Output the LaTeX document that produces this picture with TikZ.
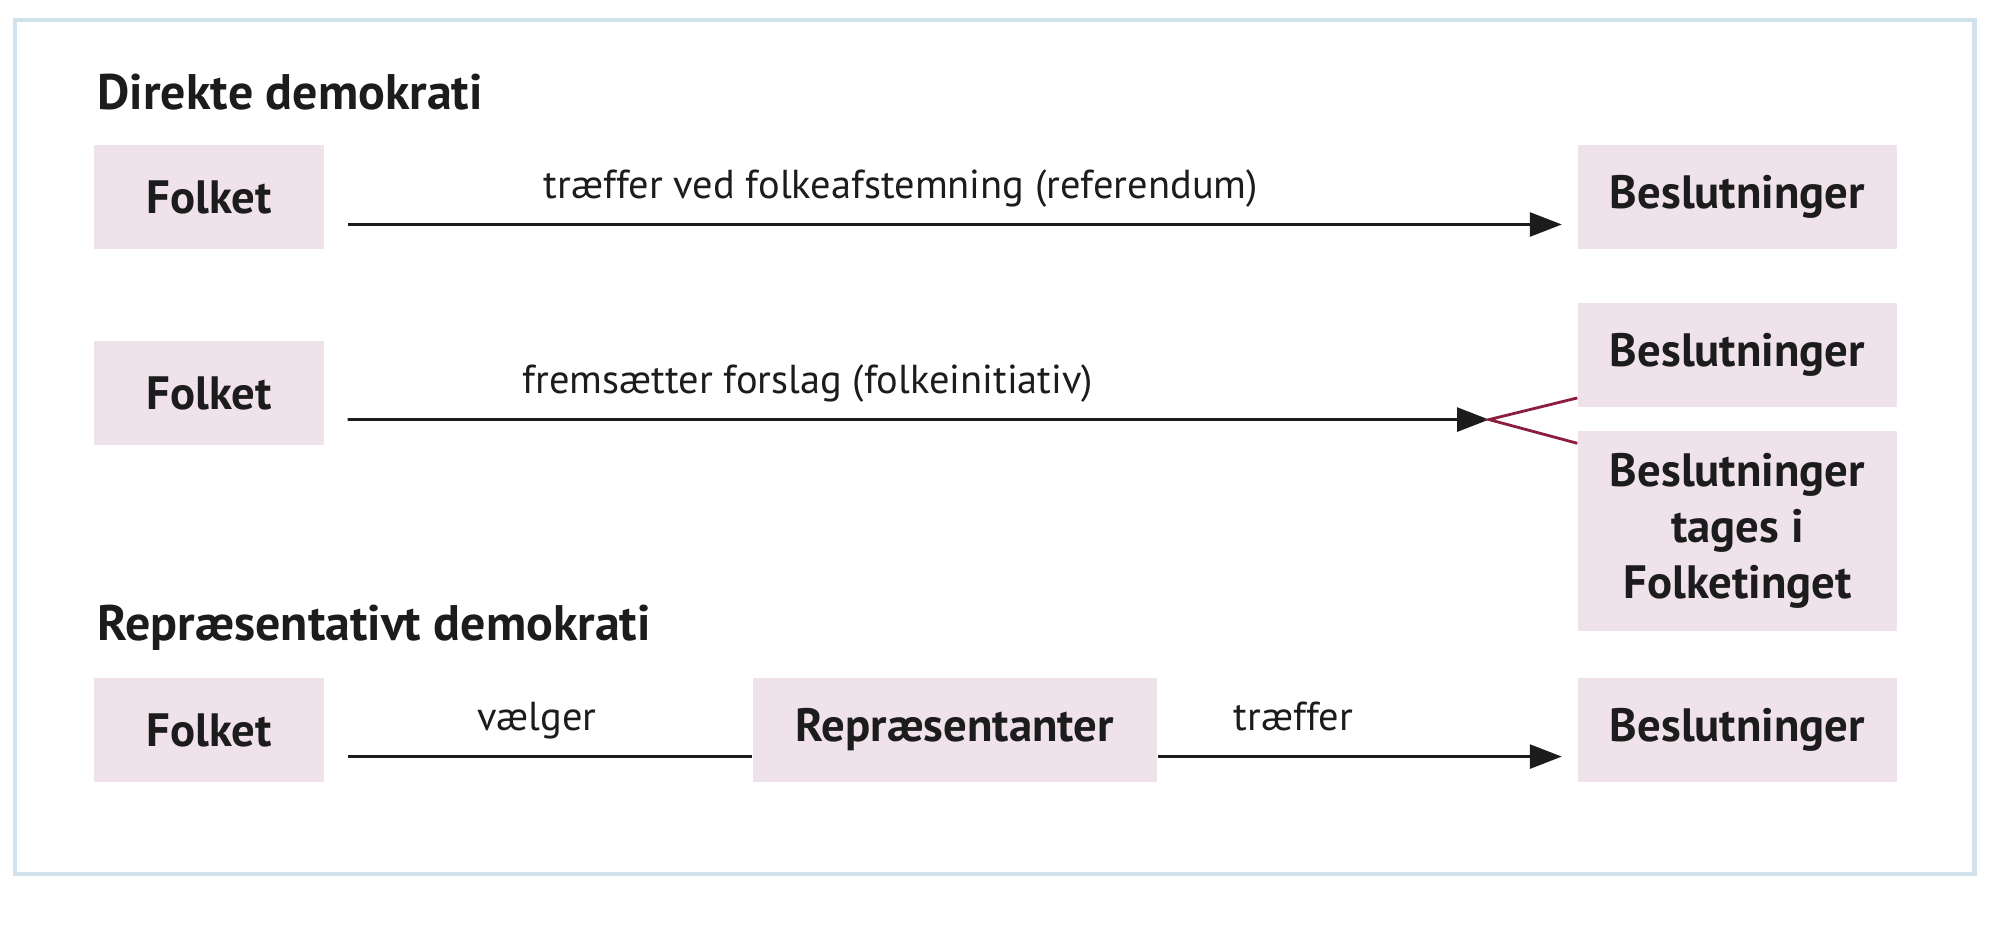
\documentclass[tikz,border=0pt]{standalone}
\usepackage{fontspec}
\setmainfont{PT Sans}
\usetikzlibrary{arrows.meta}
\definecolor{boxpink}{RGB}{240,226,234}
\definecolor{framegray}{RGB}{210,226,236}
\definecolor{forkred}{RGB}{139,30,62}
\definecolor{inkblack}{RGB}{28,28,28}
\tikzset{
	felt/.style={fill=boxpink, minimum height=1.04cm, inner sep=0pt, align=center, text=inkblack, font=\fontsize{13.3}{16}\selectfont\bfseries},
	pil/.style={line width=0.8pt, color=inkblack, -{Triangle[length=3.2mm,width=2.4mm]}},
	streg/.style={line width=0.8pt, color=inkblack},
	gaffel/.style={line width=0.8pt, color=forkred},
	tekst/.style={anchor=base, yshift=2.6mm, text=inkblack, font=\fontsize{11.5}{14}\selectfont},
	overskrift/.style={anchor=base west, inner sep=0pt, text=inkblack, font=\fontsize{14.2}{17}\selectfont\bfseries}
}

\begin{document}
\begin{tikzpicture}
			%%%%% START %%%%%
			\useasboundingbox (0, 0) rectangle (20, 9.44);
			\draw[line width=1.2pt, color=framegray] (0.153, 0.70) rectangle (19.745, 9.236);
			
			\node[overskrift] (dirHead) at (0.97, 8.34) {Direkte demokrati};
			
			\node[felt, minimum width=2.296cm] (folketA) at (2.092, 7.47) {Folket};
			\node[felt, minimum width=3.19cm] (beslA) at (17.375, 7.47) {Beslutninger};
			\draw[pil, shorten <=2.3mm, shorten >=1.55mm] ([yshift=-2.75mm]folketA.east) -- node[tekst, pos=0.46] {træffer ved folkeafstemning (referendum)} ([yshift=-2.75mm]beslA.west);
			
			\node[felt, minimum width=2.296cm] (folketB) at (2.092, 5.505) {Folket};
			\node[felt, minimum width=3.19cm] (beslB) at (17.375, 5.8875) {Beslutninger};
			\node[felt, minimum width=3.19cm, minimum height=2.0cm] (beslC) at (17.375, 4.13) {Beslutninger\\tages i\\Folketinget};
			\coordinate (fork) at (14.89, 5.244);
			\draw[pil, shorten <=2.3mm] ([yshift=-2.61mm]folketB.east) -- node[tekst, pos=0.415] {fremsætter forslag (folkeinitiativ)} (fork);
			\draw[gaffel] ([yshift=1mm]beslB.south west) -- (fork) -- ([yshift=-1.3mm]beslC.north west);
			
			\node[overskrift] (repHead) at (0.97, 3.03) {Repræsentativt demokrati};
			
			\node[felt, minimum width=2.296cm] (folketC) at (2.092, 2.14) {Folket};
			\node[felt, minimum width=4.044cm] (repr) at (9.548, 2.14) {Repræsentanter};
			\node[felt, minimum width=3.19cm] (beslD) at (17.375, 2.14) {Beslutninger};
			\draw[streg, shorten <=2.3mm] ([yshift=-2.66mm]folketC.east) -- node[tekst, pos=0.497] {vælger} ([yshift=-2.66mm]repr.west);
			\draw[pil, shorten >=1.55mm] ([yshift=-2.66mm]repr.east) -- node[tekst, pos=0.323] {træffer} ([yshift=-2.66mm]beslD.west);
			%%%%% END %%%%%
\end{tikzpicture}
\end{document}
